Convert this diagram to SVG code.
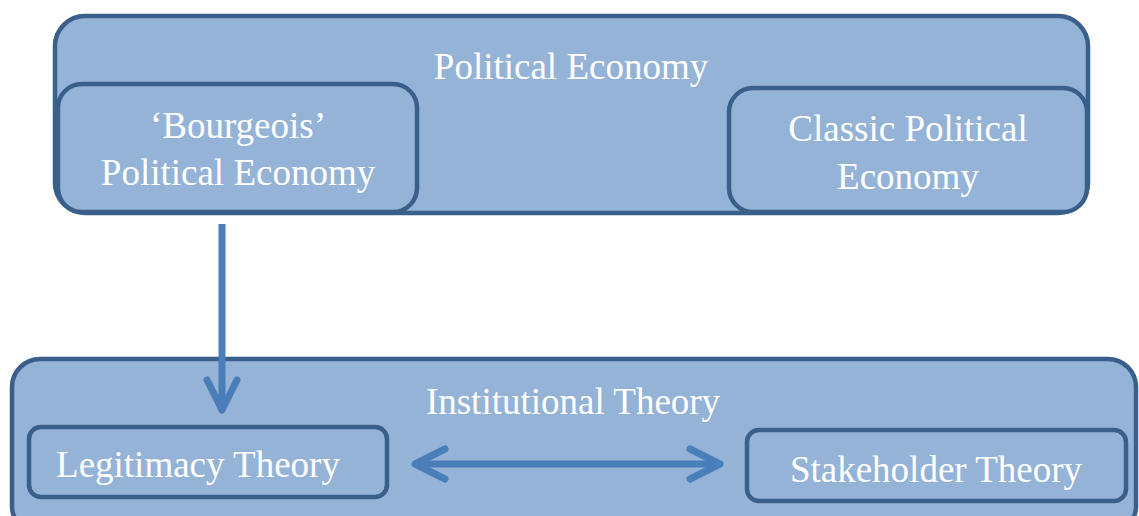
<svg xmlns="http://www.w3.org/2000/svg" width="1139" height="516" viewBox="0 0 1139 516">
  <style>
    .box { fill: #95b3d7; stroke: #3a5f8b; stroke-width: 4.5; }
    .lbl { fill: #ffffff; font-family: "Liberation Serif", "Times New Roman", serif; font-size: 37px; text-anchor: middle; }
    .conn { fill: none; stroke: #4a7ebb; stroke-width: 7; }
    .head { fill: none; stroke: #4a7ebb; stroke-width: 7; stroke-linecap: round; stroke-linejoin: round; }
  </style>
  <defs>
    <marker id="chevron" markerUnits="userSpaceOnUse" viewBox="-38 -22 44 44" refX="0" refY="0" markerWidth="44" markerHeight="44" orient="auto-start-reverse">
      <path class="head" d="M -30 -15 L 0 0 L -30 15"/>
    </marker>
  </defs>

  <!-- upper cluster -->
  <g id="political-economy">
    <rect class="box" x="55" y="16" width="1033" height="197" rx="30"/>
    <text class="lbl" x="571" y="79">Political Economy</text>
  </g>
  <g id="bourgeois-political-economy">
    <rect class="box" x="58" y="84" width="359" height="128" rx="24"/>
    <text class="lbl" x="238" y="138">‘Bourgeois’</text>
    <text class="lbl" x="238" y="185">Political Economy</text>
  </g>
  <g id="classic-political-economy">
    <rect class="box" x="729" y="88" width="358" height="124" rx="24"/>
    <text class="lbl" x="908" y="141">Classic Political</text>
    <text class="lbl" x="908" y="189">Economy</text>
  </g>

  <!-- lower cluster -->
  <g id="institutional-theory">
    <rect class="box" x="12" y="359" width="1124" height="175" rx="28"/>
    <text class="lbl" x="573" y="414">Institutional Theory</text>
  </g>
  <g id="legitimacy-theory">
    <rect class="box" x="29" y="427" width="358" height="70" rx="12"/>
    <text class="lbl" x="198" y="477">Legitimacy Theory</text>
  </g>
  <g id="stakeholder-theory">
    <rect class="box" x="747" y="430" width="379" height="71" rx="12"/>
    <text class="lbl" x="936" y="482">Stakeholder Theory</text>
  </g>

  <!-- connectors -->
  <g id="connectors">
    <path class="conn" d="M 222 224 L 222 410" marker-end="url(#chevron)"/>
    <path class="conn" d="M 415 464 L 720 464" marker-start="url(#chevron)" marker-end="url(#chevron)"/>
  </g>
</svg>
